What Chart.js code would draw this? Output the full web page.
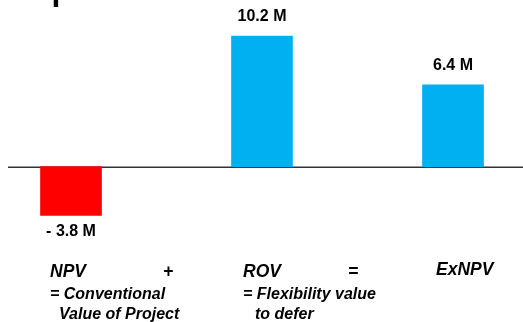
<!DOCTYPE html>
<html>
<head>
<meta charset="utf-8">
<script src="https://cdn.jsdelivr.net/npm/chart.js@4.4.1/dist/chart.umd.min.js"></script>
<style>
  html, body { margin: 0; padding: 0; background: #ffffff; }
  #wrap { position: relative; width: 523px; height: 322px; }
</style>
</head>
<body>
<div id="wrap"><canvas id="c"></canvas></div>
<script>
// Value decomposition: NPV + ROV = ExNPV (millions)
const categories = ['NPV', 'ROV', 'ExNPV'];
const values = [-3.8, 10.2, 6.4];
const operators = ['+', '='];
const descriptions = [
  ['= Conventional', 'Value of Project'],
  ['= Flexibility value', 'to defer'],
  []
];
const titleFragment = 'p';

const POS_COLOR = '#00B0F0';
const NEG_COLOR = '#FF0000';
const FONT = '"Liberation Sans", Arial, sans-serif';

function formatValue(v) {
  const s = Math.abs(v).toFixed(1) + ' M';
  return v < 0 ? '- ' + s : s;
}

// Horizontal zero line across the full width
const zeroLine = {
  id: 'zeroLine',
  beforeDatasetsDraw(chart) {
    const { ctx } = chart;
    const y = chart.scales.y.getPixelForValue(0);
    ctx.save();
    ctx.strokeStyle = '#333333';
    ctx.lineWidth = 1.5;
    ctx.beginPath();
    ctx.moveTo(8, y + 0.5);
    ctx.lineTo(chart.width, y + 0.5);
    ctx.stroke();
    ctx.restore();
  }
};

// Value labels above positive bars, below negative ones
const valueLabels = {
  id: 'valueLabels',
  afterDatasetsDraw(chart) {
    const { ctx } = chart;
    const meta = chart.getDatasetMeta(0);
    ctx.save();
    ctx.fillStyle = '#000000';
    ctx.font = 'bold 16px ' + FONT;
    ctx.textAlign = 'center';
    ctx.textBaseline = 'alphabetic';
    meta.data.forEach((bar, i) => {
      const v = values[i];
      const y = v >= 0 ? bar.y - 15 : bar.y + 21;
      ctx.fillText(formatValue(v), bar.x, y);
    });
    ctx.restore();
  }
};

// Equation row and descriptions underneath
const equation = {
  id: 'equation',
  afterDraw(chart) {
    const { ctx } = chart;
    const headX = [50, 243, 436];
    const opX = [168, 353];
    ctx.save();
    ctx.fillStyle = '#000000';
    ctx.textBaseline = 'alphabetic';

    ctx.font = 'italic bold 17.5px ' + FONT;
    ctx.textAlign = 'left';
    categories.forEach((c, i) => {
      ctx.fillText(c, headX[i], i === 2 ? 274.5 : 276.5);
    });
    ctx.textAlign = 'center';
    operators.forEach((o, i) => ctx.fillText(o, opX[i], 276.5));

    ctx.font = 'italic bold 16px ' + FONT;
    ctx.textAlign = 'left';
    const indent = [9, 12];
    descriptions.forEach((lines, i) => {
      lines.forEach((t, j) => {
        ctx.fillText(t, headX[i] + (j ? indent[i] : 0), 298.5 + j * 20);
      });
    });

    // Remnant of the heading above the plot
    ctx.font = 'bold 32px ' + FONT;
    ctx.fillText(titleFragment, 51.5, 0);
    ctx.restore();
  }
};

new Chart(document.getElementById('c'), {
  type: 'bar',
  data: {
    labels: categories,
    datasets: [{
      data: values,
      backgroundColor: values.map(v => (v < 0 ? NEG_COLOR : POS_COLOR)),
      borderWidth: 0,
      barThickness: 61,
      clip: false
    }]
  },
  options: {
    responsive: true,
    maintainAspectRatio: false,
    animation: false,
    layout: { padding: { left: 71, right: 70, top: 1.5, bottom: 78.5 } },
    plugins: { legend: { display: false }, tooltip: { enabled: false } },
    scales: {
      x: { display: false, offset: false, grid: { display: false } },
      y: { display: false, min: -6, max: 12.9, grid: { display: false } }
    }
  },
  plugins: [zeroLine, valueLabels, equation]
});
</script>
</body>
</html>
